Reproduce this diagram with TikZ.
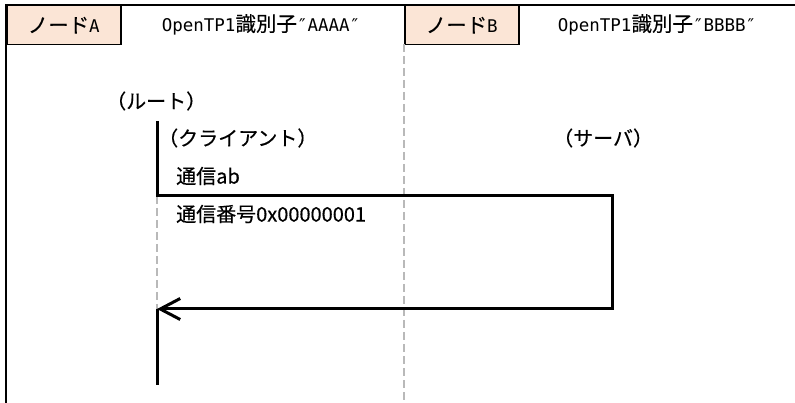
\documentclass[tikz,border=0pt]{standalone}
\usepackage{fontspec}
\setmainfont{Noto Sans CJK JP}
\newfontfamily\jpfont[FakeBold=0.2]{Noto Sans CJK JP}
\newfontfamily\jpbody[FakeBold=0.4]{Noto Sans CJK JP}
\newfontfamily\monofont{DejaVu Sans Mono}
\usetikzlibrary{arrows.meta}
\definecolor{peach}{RGB}{251,229,214}
\definecolor{lanegray}{RGB}{185,185,185}
\newcommand\hdrjp[1]{{\jpfont\fontsize{20.5}{24}\selectfont #1}}
\newcommand\hdrla[1]{{\monofont\fontsize{17.5}{20}\selectfont #1}}
\tikzset{
  hdrbox/.style={draw=black, line width=1.5pt, fill=peach, minimum width=114pt, minimum height=39pt, inner sep=0pt, anchor=north west},
  hdrtext/.style={inner sep=0pt, anchor=center},
  bodytext/.style={inner sep=0pt, anchor=west, font=\jpbody\fontsize{20}{24}\selectfont},
  frameline/.style={draw=black, line width=2pt},
  laneline/.style={draw=lanegray, line width=1.6pt, dash pattern=on 8pt off 4pt},
  flowline/.style={draw=black, line width=3pt},
}
\begin{document}
\begin{tikzpicture}[x=1pt,y=-1pt]
\useasboundingbox (0,0) rectangle (795,403);
% frame
\coordinate (frTL) at (6,5);
\coordinate (frTR) at (795,5);
\coordinate (frBL) at (6,403);
\draw[frameline] (frBL) -- (frTL) -- (frTR);
% header boxes
\node[hdrbox] (boxA) at (6,5) {};
\node[hdrtext] at (boxA.center) {\hdrjp{ノード}\hdrla{A}};
\node[hdrbox] (boxB) at (404,5) {};
\node[hdrtext] at (boxB.center) {\hdrjp{ノード}\hdrla{B}};
\node[hdrtext] (hdrA) at (261,24.5) {\hdrla{OpenTP1}\hdrjp{識別子}\hdrla{″AAAA″}};
\node[hdrtext] (hdrB) at (657,24.5) {\hdrla{OpenTP1}\hdrjp{識別子}\hdrla{″BBBB″}};
% lane separator
\coordinate (laneTop) at (404,44);
\coordinate (laneBot) at (404,403);
\draw[laneline] (laneTop) -- (laneBot);
% texts
\node[bodytext] (root) at (106,101) {（ルート）};
\node[bodytext] (client) at (158,138) {（クライアント）};
\node[bodytext] (server) at (553,138) {（サーバ）};
\node[bodytext] (comm) at (176,176) {通信ab};
\node[bodytext] (commno) at (176,214) {通信番号0x00000001};
% flow
\coordinate (rootTop) at (157,121);
\coordinate (rootJ) at (157,196);
\coordinate (srvTop) at (612,196);
\coordinate (srvBot) at (612,309);
\coordinate (rootArr) at (157,309);
\coordinate (rootEnd) at (157,385);
\draw[laneline] (rootJ) -- (rootArr);
\draw[flowline, -{Straight Barb[length=20pt,width=21pt]}] (rootTop) -- (rootJ) -- (srvTop) -- (srvBot) -- (rootArr);
\draw[flowline] (rootArr) -- (rootEnd);
\end{tikzpicture}
\end{document}
